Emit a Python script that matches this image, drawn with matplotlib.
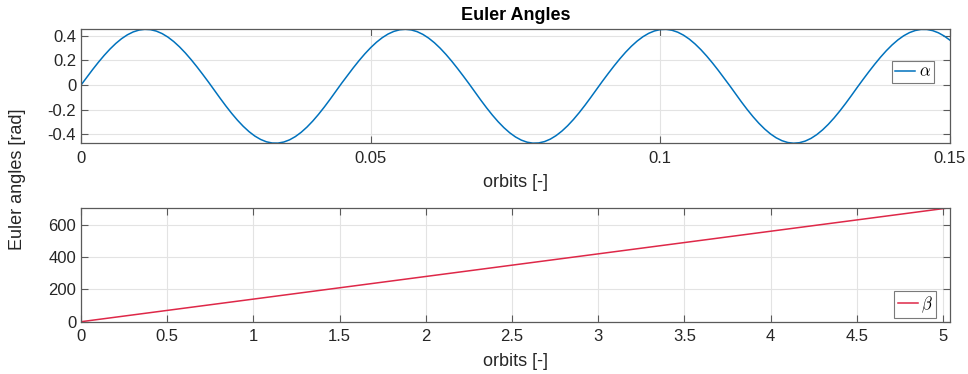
import numpy as np
import matplotlib
matplotlib.use("Agg")
import matplotlib.pyplot as plt

plt.rcParams['font.family'] = ['Liberation Sans', 'DejaVu Sans']
plt.rcParams['mathtext.fontset'] = 'cm'

# alpha angle [rad] sampled every 0.001 orbits over 0 .. 0.15
alpha_orbits = np.linspace(0.0, 0.15, 151)
alpha_rad = [
    0.0000, 0.0632, 0.1253, 0.1848, 0.2406, 0.2918, 0.3372, 0.3761, 0.4074, 0.4308,
    0.4457, 0.4518, 0.4491, 0.4375, 0.4173, 0.3889, 0.3528, 0.3098, 0.2607, 0.2065,
    0.1482, 0.0870, 0.0241, -0.0411, -0.1064, -0.1697, -0.2297, -0.2851, -0.3349, -0.3782,
    -0.4140, -0.4416, -0.4606, -0.4705, -0.4712, -0.4625, -0.4448, -0.4183, -0.3836, -0.3414,
    -0.2924, -0.2377, -0.1783, -0.1154, -0.0502, 0.0153, 0.0783, 0.1398, 0.1986, 0.2534,
    0.3033, 0.3472, 0.3843, 0.4138, 0.4352, 0.4480, 0.4520, 0.4471, 0.4334, 0.4112,
    0.3809, 0.3431, 0.2986, 0.2481, 0.1928, 0.1337, 0.0720, 0.0088, -0.0569, -0.1219,
    -0.1845, -0.2435, -0.2977, -0.3460, -0.3875, -0.4214, -0.4470, -0.4638, -0.4715, -0.4699,
    -0.4591, -0.4392, -0.4106, -0.3741, -0.3302, -0.2797, -0.2238, -0.1635, -0.0999, -0.0344,
    0.0305, 0.0933, 0.1543, 0.2122, 0.2660, 0.3145, 0.3568, 0.3921, 0.4197, 0.4391,
    0.4498, 0.4516, 0.4446, 0.4288, 0.4046, 0.3725, 0.3329, 0.2869, 0.2352, 0.1789,
    0.1191, 0.0569, -0.0067, -0.0727, -0.1372, -0.1990, -0.2570, -0.3099, -0.3566, -0.3964,
    -0.4283, -0.4518, -0.4665, -0.4720, -0.4681, -0.4551, -0.4331, -0.4026, -0.3641, -0.3186,
    -0.2667, -0.2096, -0.1484, -0.0843, -0.0184, 0.0457, 0.1082, 0.1685, 0.2255, 0.2781,
    0.3252, 0.3659, 0.3995, 0.4252, 0.4424, 0.4510, 0.4507, 0.4416, 0.4238, 0.3976,
    0.3636,
]

# beta angle [rad] over the full run
beta_orbits = [0.0, 1.0, 2.0, 3.0, 4.0, 5.04]
beta_rad = [0.0, 140.3, 280.6, 420.9, 561.2, 707.0]

top_xticks = [0, 0.05, 0.1, 0.15]
top_xticklabels = ['0', '0.05', '0.1', '0.15']
top_yticks = [-0.4, -0.2, 0, 0.2, 0.4]
top_yticklabels = ['-0.4', '-0.2', '0', '0.2', '0.4']
bot_xticks = [0, 0.5, 1, 1.5, 2, 2.5, 3, 3.5, 4, 4.5, 5]
bot_xticklabels = ['0', '0.5', '1', '1.5', '2', '2.5', '3', '3.5', '4', '4.5', '5']
bot_yticks = [0, 200, 400, 600]
bot_yticklabels = ['0', '200', '400', '600']

BLUE = '#0072BD'
RED = '#DE2848'
TEXT = '#262626'
EDGE = '#5a5a5a'
GRID = '#e3e3e3'

fig = plt.figure(figsize=(9.68, 3.74), dpi=100)
ax1 = fig.add_axes([0.0837, 0.6168, 0.8977, 0.3048])
ax2 = fig.add_axes([0.0837, 0.1398, 0.8977, 0.3048])


def style(ax):
    for s in ax.spines.values():
        s.set_color(EDGE)
        s.set_linewidth(0.9)
    ax.tick_params(direction='in', length=5, width=0.8, color=EDGE,
                   labelcolor=TEXT, labelsize=12, top=True, right=True)
    ax.tick_params(axis='x', pad=5.5)
    ax.tick_params(axis='y', pad=3.5)
    ax.grid(True, color=GRID, linewidth=0.8)
    ax.set_axisbelow(True)


ax1.plot(alpha_orbits, alpha_rad, color=BLUE, linewidth=1.1, label=r'$\alpha$')
ax1.set_xlim(0, 0.15)
ax1.set_ylim(-0.473, 0.452)
ax1.set_xticks(top_xticks)
ax1.set_xticklabels(top_xticklabels)
ax1.set_yticks(top_yticks)
ax1.set_yticklabels(top_yticklabels)
style(ax1)
ax1.set_xlabel('orbits [-]', fontsize=13, color=TEXT, labelpad=6)
ax1.set_title('Euler Angles', fontsize=13, fontweight='bold', color='black', pad=6.7)
leg1 = ax1.legend(loc='upper right', bbox_to_anchor=(0.9816, 0.719), borderaxespad=0,
                  fontsize=12, handlelength=1.2, handletextpad=0.2, borderpad=0.2,
                  fancybox=False, framealpha=1, edgecolor='#7a7a7a')
leg1.get_frame().set_linewidth(0.8)

ax2.plot(beta_orbits, beta_rad, color=RED, linewidth=1.1, label=r'$\beta$')
ax2.set_xlim(0, 5.04)
ax2.set_ylim(0, 707)
ax2.set_xticks(bot_xticks)
ax2.set_xticklabels(bot_xticklabels)
ax2.set_yticks(bot_yticks)
ax2.set_yticklabels(bot_yticklabels)
style(ax2)
ax2.set_xlabel('orbits [-]', fontsize=13, color=TEXT, labelpad=6)
leg2 = ax2.legend(loc='lower right', bbox_to_anchor=(0.984, 0.030), borderaxespad=0,
                  fontsize=12, handlelength=1.2, handletextpad=0.2, borderpad=0.2,
                  fancybox=False, framealpha=1, edgecolor='#7a7a7a')
leg2.get_frame().set_linewidth(0.8)

fig.text(0.018, 1 - 179 / 374, 'Euler angles [rad]', rotation=90, ha='center', va='center',
         fontsize=13, color=TEXT)

fig.savefig('out.png', dpi=100)
